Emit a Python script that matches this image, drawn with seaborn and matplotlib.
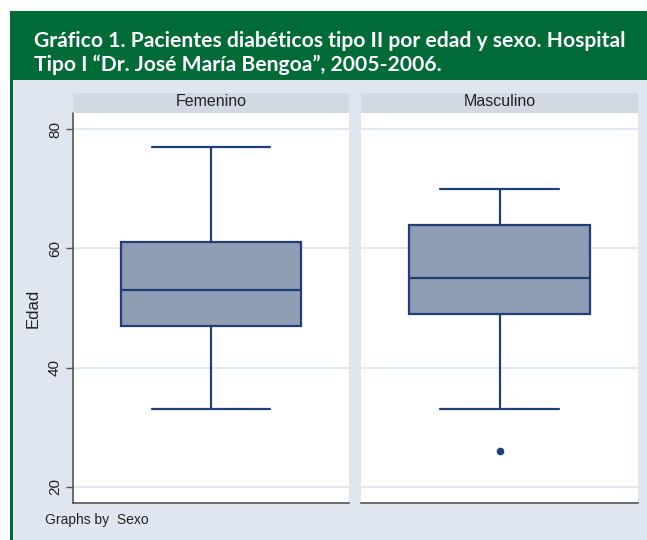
import matplotlib
matplotlib.use("Agg")
import matplotlib.pyplot as plt
from matplotlib.patches import Rectangle
import seaborn as sns
import pandas as pd

# ---- data ----
panels = ["Femenino", "Masculino"]
fem_edad = [33, 47, 53, 61, 77]
masc_edad = [26, 33, 49, 49, 55, 60, 64, 67, 70]
y_ticks = [20, 40, 60, 80]
title_lines = ["Gráfico 1. Pacientes diabéticos tipo II por edad y sexo. Hospital",
               "Tipo I “Dr. José María Bengoa”, 2005-2006."]
y_label = "Edad"
note = "Graphs by  Sexo"

sns.set_theme(style="white")
plt.rcParams["font.family"] = ["Liberation Sans", "DejaVu Sans"]

W, H = 647, 540
fig = plt.figure(figsize=(W / 100, H / 100), dpi=100)
fig.patch.set_facecolor("white")

GREEN = "#006B36"
BG = "#E0E6EF"
STRIP = "#D3D9E3"
FILL = "#8F9DB5"
EDGE = "#203F77"
GRID = "#E3E8F0"


def px_rect(x0, y0, x1, y1, color, z=0):
    fig.add_artist(Rectangle((x0 / W, 1 - y1 / H), (x1 - x0) / W, (y1 - y0) / H,
                             transform=fig.transFigure, facecolor=color,
                             edgecolor="none", zorder=z))


px_rect(10, 80, W, H, BG, z=-2)
px_rect(10, 11, W, 80, GREEN, z=-1)
px_rect(10, 80, 13, H, GREEN, z=-1)

for i, line in enumerate(title_lines):
    fig.text(34 / W, 1 - (47 + i * 24) / H, line, color="white", fontsize=15.2,
             fontweight="bold", family=["Lato", "DejaVu Sans"], ha="left",
             va="baseline")

df = pd.DataFrame({
    "Sexo": [panels[0]] * len(fem_edad) + [panels[1]] * len(masc_edad),
    "Edad": fem_edad + masc_edad,
})

panel_x = [(73, 349), (361, 638)]
top, bottom = 113, 503
ylim = (17.3, 82.7)

for k, (name, (x0, x1)) in enumerate(zip(panels, panel_x)):
    ax = fig.add_axes([x0 / W, 1 - bottom / H, (x1 - x0) / W, (bottom - top) / H])
    ax.set_facecolor("white")
    for yt in y_ticks:
        ax.axhline(yt, color=GRID, lw=1.5, zorder=0)
    sub = df[df["Sexo"] == name]
    sns.boxplot(data=sub, y="Edad", ax=ax, color=FILL, linecolor=EDGE,
                saturation=1, width=0.65, linewidth=1.6, whis=1.5,
                capwidths=0.43,
                flierprops=dict(marker="o", markerfacecolor=EDGE,
                                markeredgecolor=EDGE, markersize=4.5))
    ax.set_xlim(-0.5, 0.5)
    ax.set_ylim(*ylim)
    ax.set_xticks([])
    ax.set_xlabel("")
    for s in ["top", "right"]:
        ax.spines[s].set_visible(False)
    ax.spines["bottom"].set_color("#555555")
    ax.spines["bottom"].set_linewidth(1.2)
    if k == 0:
        ax.spines["left"].set_color("#555555")
        ax.spines["left"].set_linewidth(1.2)
        ax.set_yticks(y_ticks)
        ax.set_yticklabels([str(v) for v in y_ticks], rotation=90, va="center",
                           fontsize=11, color="#222222")
        ax.tick_params(axis="y", direction="out", length=5, width=1,
                       color="#555555", pad=3, left=True)
        ax.set_ylabel(y_label, fontsize=12, color="#222222")
        ax.yaxis.set_label_coords((41 - x0) / (x1 - x0), 0.5)
    else:
        ax.spines["left"].set_visible(False)
        ax.set_yticks([])
        ax.set_ylabel("")
    # strip
    px_rect(x0, 93, x1, top, STRIP, z=1)
    fig.text((x0 + x1) / 2 / W, 1 - 102 / H, name, ha="center", va="center",
             fontsize=11.5, color="#222222")

fig.text(45 / W, 1 - 520 / H, note, ha="left", va="center", fontsize=10,
         color="#222222")

fig.savefig("out.png", dpi=100)
